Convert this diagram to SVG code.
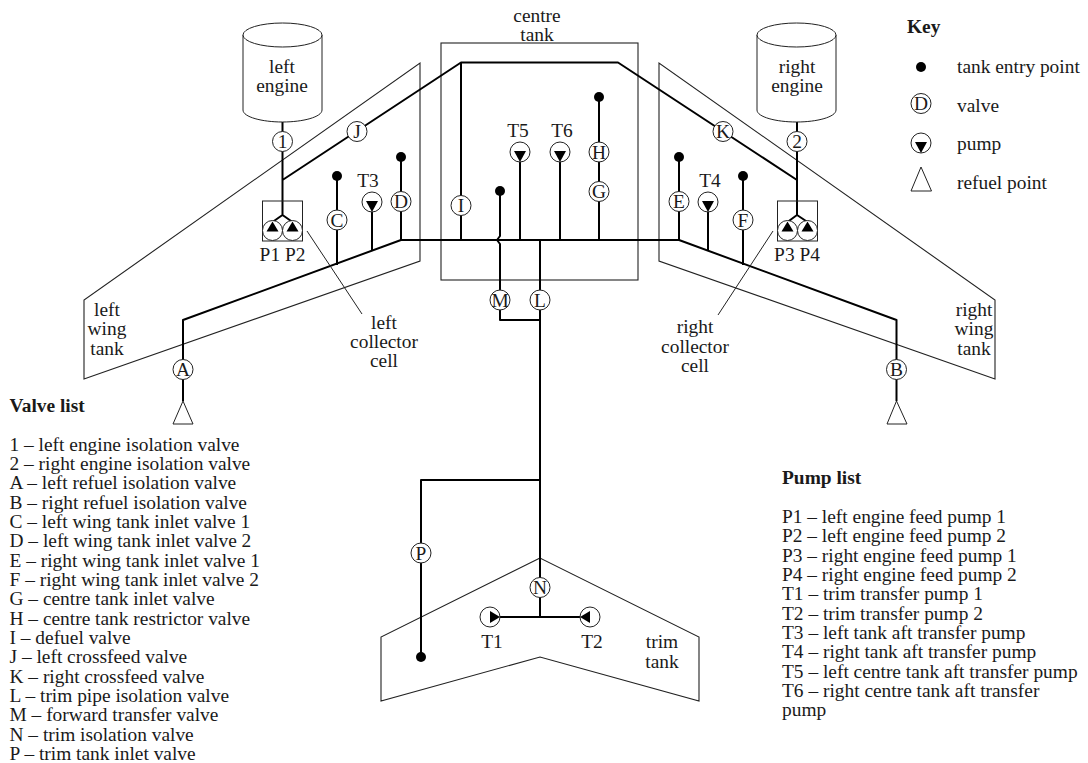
<svg xmlns="http://www.w3.org/2000/svg" width="1088" height="763" viewBox="0 0 1088 763">
<style>
text{font-family:"Liberation Serif","Times New Roman",serif;font-size:19.4px;fill:#1a1a1a}
.m{text-anchor:middle}
.b{font-weight:bold}
.o{fill:none;stroke:#222;stroke-width:1}
.tank{fill:none;stroke:#222;stroke-width:1.1}
.p{fill:none;stroke:#000;stroke-width:2;stroke-linejoin:round}
.c{fill:#fff;stroke:#222;stroke-width:1}
.k{fill:#000}
</style>
<defs>
<circle id="v" r="10" class="c"/>
<circle id="dot" r="5" class="k"/>
<g id="pd"><circle r="10" class="c"/><path class="k" d="M-6,-1H6L0,10Z"/></g>
<g id="pu"><circle r="10" class="c"/><path class="k" d="M-6,1H6L0,-9Z"/></g>
<g id="pr"><circle r="10" class="c"/><path class="k" d="M0,-6V6L10,0Z"/></g>
<g id="pl"><circle r="10" class="c"/><path class="k" d="M0,-6V6L-10,0Z"/></g>
</defs>
<g id="tanks">
<path id="left-wing-tank" class="tank" d="M420,63V261L84,379V300Z"/>
<path id="right-wing-tank" class="tank" d="M659,63V261L995,379V300Z"/>
<rect id="centre-tank" class="tank" x="441" y="43" width="197" height="237"/>
<path id="trim-tank" class="tank" d="M540,558L381,637V701L540,657L699,701V637Z"/>
</g>
<g id="connectors">
<path class="p" d="M183,401V320L401,240H679L896.500,320V401"/>
<path class="p" d="M282.500,122V215M272.500,222L282.500,215L292.500,222M282.500,180L461,62.500H618L797,180M797,122V215M787.500,222L797,215L807.500,222"/>
<path class="p" d="M461,63V240M337,176V265M372,202V251M401,157V240M679,157V240M708,202V251M743,176V265"/>
<path class="p" d="M520,152V240M560,152V240M599,97V240"/>
<path class="p" d="M500,191V236L497,240L500,244V320H540M540,240V558M540,480H421V657M540,558V617M490,617H590"/>
<path class="o" d="M307,231L362,314M773,231L718,315"/>
</g>
<g id="left-engine"><path d="M243,35V110C243,117 262,122 282.500,122S322,117 322,110V35" class="c"/><ellipse cx="282.500" cy="35" rx="39.500" ry="12" class="c"/><text class="m" x="282" y="73">left</text><text class="m" x="282" y="92">engine</text></g>
<g id="right-engine"><path d="M757,35V110C757,117 776,122 796.500,122S836,117 836,110V35" class="c"/><ellipse cx="796.500" cy="35" rx="39.500" ry="12" class="c"/><text class="m" x="797" y="73">right</text><text class="m" x="797" y="92">engine</text></g>
<g id="valve-1"><use href="#v" x="282.500" y="141.500"/><text class="m" x="282.500" y="148">1</text></g>
<g id="valve-2"><use href="#v" x="797" y="141.500"/><text class="m" x="797" y="148">2</text></g>
<g id="valve-A"><use href="#v" x="183" y="369.500"/><text class="m" x="183" y="376">A</text></g>
<g id="valve-B"><use href="#v" x="896.500" y="369.500"/><text class="m" x="896.500" y="376">B</text></g>
<g id="valve-C"><use href="#dot" x="337" y="176"/><use href="#v" x="337" y="220"/><text class="m" x="337" y="226.500">C</text></g>
<g id="valve-D"><use href="#dot" x="401" y="157"/><use href="#v" x="401" y="201.500"/><text class="m" x="401" y="208">D</text></g>
<g id="valve-E"><use href="#dot" x="679" y="157"/><use href="#v" x="679" y="201.500"/><text class="m" x="679" y="208">E</text></g>
<g id="valve-F"><use href="#dot" x="743" y="176"/><use href="#v" x="743" y="220"/><text class="m" x="743" y="226.500">F</text></g>
<g id="valve-G"><use href="#v" x="599" y="191.500"/><text class="m" x="599" y="198">G</text></g>
<g id="valve-H"><use href="#dot" x="599" y="97"/><use href="#v" x="599" y="152"/><text class="m" x="599" y="158.500">H</text></g>
<g id="valve-I"><use href="#v" x="461" y="205.500"/><text class="m" x="461" y="212">I</text></g>
<g id="valve-J"><use href="#v" x="357" y="131.500"/><text class="m" x="357" y="138">J</text></g>
<g id="valve-K"><use href="#v" x="723" y="131.500"/><text class="m" x="723" y="138">K</text></g>
<g id="valve-L"><use href="#v" x="540" y="300"/><text class="m" x="540" y="306.500">L</text></g>
<g id="valve-M"><use href="#dot" x="500" y="191"/><use href="#v" x="500" y="300"/><text class="m" x="500" y="306.500">M</text></g>
<g id="valve-N"><use href="#v" x="540" y="587.500"/><text class="m" x="540" y="594">N</text></g>
<g id="valve-P"><use href="#dot" x="421" y="657"/><use href="#v" x="421" y="553"/><text class="m" x="421" y="559.500">P</text></g>
<g id="pump-T3"><use href="#pd" x="372" y="202"/><text class="m" x="368" y="187">T3</text></g>
<g id="pump-T4"><use href="#pd" x="708" y="202"/><text class="m" x="710" y="187">T4</text></g>
<g id="pump-T5"><use href="#pd" x="520" y="152"/><text class="m" x="518" y="137">T5</text></g>
<g id="pump-T6"><use href="#pd" x="560" y="152"/><text class="m" x="562" y="137">T6</text></g>
<g id="left-collector"><rect class="o" x="262.500" y="201" width="40" height="40"/><use href="#pu" x="272.500" y="230.500"/><use href="#pu" x="292.500" y="230.500"/><text class="m" x="282.500" y="261">P1 P2</text></g>
<g id="right-collector"><rect class="o" x="777.500" y="201" width="40" height="40"/><use href="#pu" x="787.500" y="230.500"/><use href="#pu" x="807.500" y="230.500"/><text class="m" x="797" y="261">P3 P4</text></g>
<g id="pump-T1"><use href="#pr" x="490" y="617"/><text class="m" x="492" y="648">T1</text></g>
<g id="pump-T2"><use href="#pl" x="590" y="617"/><text class="m" x="592" y="648">T2</text></g>
<g id="refuel-A"><path class="c" d="M183,401L173,424H193Z"/></g>
<g id="refuel-B"><path class="c" d="M896.500,401L887,424H907Z"/></g>
<g id="labels">
<text class="m" x="537" y="22">centre</text><text class="m" x="537" y="41">tank</text>
<text class="m" x="107" y="316">left</text><text class="m" x="107" y="335">wing</text><text class="m" x="107" y="355">tank</text>
<text class="m" x="974" y="316">right</text><text class="m" x="974" y="335">wing</text><text class="m" x="974" y="355">tank</text>
<text class="m" x="384" y="329">left</text><text class="m" x="384" y="348">collector</text><text class="m" x="384" y="367">cell</text>
<text class="m" x="695" y="333">right</text><text class="m" x="695" y="353">collector</text><text class="m" x="695" y="372">cell</text>
<text class="m" x="662" y="648">trim</text><text class="m" x="662" y="668">tank</text>
</g>
<g id="key">
<text class="b" x="907" y="33">Key</text>
<circle cx="921" cy="67" r="5" class="k"/><text x="957" y="73">tank entry point</text>
<use href="#v" x="921" y="103.500"/><text class="m" x="921" y="110">D</text><text x="957" y="111.500">valve</text>
<use href="#pd" x="921" y="143"/><text x="957" y="150">pump</text>
<path class="c" d="M921,167L911,191H931.500Z"/><text x="957" y="189">refuel point</text>
</g>
<g id="valve-list">
<text class="b" x="9.500" y="411.500">Valve list</text>
<text x="9.500" y="450.700">1 – left engine isolation valve</text>
<text x="9.500" y="470">2 – right engine isolation valve</text>
<text x="9.500" y="489.400">A – left refuel isolation valve</text>
<text x="9.500" y="508.700">B – right refuel isolation valve</text>
<text x="9.500" y="528">C – left wing tank inlet valve 1</text>
<text x="9.500" y="547.400">D – left wing tank inlet valve 2</text>
<text x="9.500" y="566.700">E – right wing tank inlet valve 1</text>
<text x="9.500" y="586">F – right wing tank inlet valve 2</text>
<text x="9.500" y="605.400">G – centre tank inlet valve</text>
<text x="9.500" y="624.700">H – centre tank restrictor valve</text>
<text x="9.500" y="644">I – defuel valve</text>
<text x="9.500" y="663.400">J – left crossfeed valve</text>
<text x="9.500" y="682.700">K – right crossfeed valve</text>
<text x="9.500" y="702">L – trim pipe isolation valve</text>
<text x="9.500" y="721.400">M – forward transfer valve</text>
<text x="9.500" y="740.700">N – trim isolation valve</text>
<text x="9.500" y="760">P – trim tank inlet valve</text>
</g>
<g id="pump-list">
<text class="b" x="782" y="484">Pump list</text>
<text x="782" y="523">P1 – left engine feed pump 1</text>
<text x="782" y="542.300">P2 – left engine feed pump 2</text>
<text x="782" y="561.700">P3 – right engine feed pump 1</text>
<text x="782" y="581">P4 – right engine feed pump 2</text>
<text x="782" y="600.300">T1 – trim transfer pump 1</text>
<text x="782" y="619.700">T2 – trim transfer pump 2</text>
<text x="782" y="639">T3 – left tank aft transfer pump</text>
<text x="782" y="658.300">T4 – right tank aft transfer pump</text>
<text x="782" y="677.700">T5 – left centre tank aft transfer pump</text>
<text x="782" y="697">T6 – right centre tank aft transfer</text>
<text x="782" y="716.300">pump</text>
</g>
</svg>
